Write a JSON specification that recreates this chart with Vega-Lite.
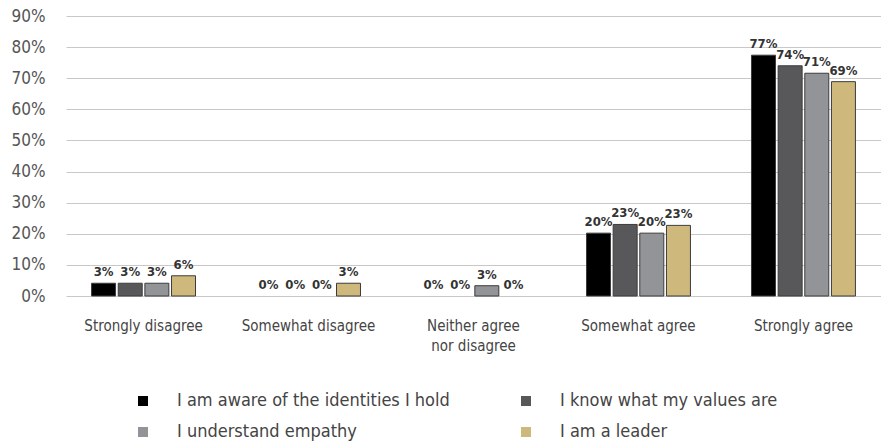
{
  "$schema": "https://vega.github.io/schema/vega-lite/v6.json",
  "width": 815,
  "height": 280,
  "autosize": "none",
  "padding": {"left": 66, "top": 16, "right": 0, "bottom": 146},
  "background": "white",
  "config": {
    "font": "DejaVu Sans Condensed, Roboto, sans-serif",
    "view": {"stroke": null}
  },
  "data": {
    "values": [
      {"response": "Strongly disagree", "item": "I am aware of the identities I hold", "value": 4.1, "label": "3%"},
      {"response": "Strongly disagree", "item": "I know what my values are", "value": 4.1, "label": "3%"},
      {"response": "Strongly disagree", "item": "I understand empathy", "value": 4.1, "label": "3%"},
      {"response": "Strongly disagree", "item": "I am a leader", "value": 6.5, "label": "6%"},
      {"response": "Somewhat disagree", "item": "I am aware of the identities I hold", "value": 0, "label": "0%"},
      {"response": "Somewhat disagree", "item": "I know what my values are", "value": 0, "label": "0%"},
      {"response": "Somewhat disagree", "item": "I understand empathy", "value": 0, "label": "0%"},
      {"response": "Somewhat disagree", "item": "I am a leader", "value": 4.1, "label": "3%"},
      {"response": "Neither agree nor disagree", "item": "I am aware of the identities I hold", "value": 0, "label": "0%"},
      {"response": "Neither agree nor disagree", "item": "I know what my values are", "value": 0, "label": "0%"},
      {"response": "Neither agree nor disagree", "item": "I understand empathy", "value": 3.3, "label": "3%"},
      {"response": "Neither agree nor disagree", "item": "I am a leader", "value": 0, "label": "0%"},
      {"response": "Somewhat agree", "item": "I am aware of the identities I hold", "value": 20.2, "label": "20%"},
      {"response": "Somewhat agree", "item": "I know what my values are", "value": 23, "label": "23%"},
      {"response": "Somewhat agree", "item": "I understand empathy", "value": 20.2, "label": "20%"},
      {"response": "Somewhat agree", "item": "I am a leader", "value": 22.7, "label": "23%"},
      {"response": "Strongly agree", "item": "I am aware of the identities I hold", "value": 77.4, "label": "77%"},
      {"response": "Strongly agree", "item": "I know what my values are", "value": 74, "label": "74%"},
      {"response": "Strongly agree", "item": "I understand empathy", "value": 71.6, "label": "71%"},
      {"response": "Strongly agree", "item": "I am a leader", "value": 68.9, "label": "69%"}
    ]
  },
  "encoding": {
    "x": {
      "field": "response",
      "type": "nominal",
      "sort": ["Strongly disagree", "Somewhat disagree", "Neither agree nor disagree", "Somewhat agree", "Strongly agree"],
      "scale": {"paddingInner": 0.37, "paddingOuter": 0.155},
      "axis": {
        "title": null,
        "labelAngle": 0,
        "domain": false,
        "ticks": false,
        "labelPadding": 22,
        "labelFontSize": 15,
        "labelColor": "#444444",
        "labelLineHeight": 20,
        "labelExpr": "datum.value == 'Neither agree nor disagree' ? ['Neither agree', 'nor disagree'] : datum.value"
      }
    },
    "xOffset": {
      "field": "item",
      "type": "nominal",
      "sort": ["I am aware of the identities I hold", "I know what my values are", "I understand empathy", "I am a leader"],
      "scale": {"paddingInner": 0.1}
    },
    "y": {
      "field": "value",
      "type": "quantitative",
      "scale": {"domain": [0, 90], "nice": false},
      "axis": {
        "title": null,
        "values": [0, 10, 20, 30, 40, 50, 60, 70, 80, 90],
        "labelExpr": "datum.value + '%'",
        "domain": false,
        "ticks": false,
        "labelPadding": 21,
        "labelFontSize": 17,
        "labelColor": "#555555",
        "gridColor": "#c8c8c8",
        "gridWidth": 1
      }
    }
  },
  "layer": [
    {
      "transform": [{"filter": "datum.value > 0"}],
      "mark": {"type": "bar", "stroke": "#3c3c3c", "strokeWidth": 1},
      "encoding": {
        "color": {
          "field": "item",
          "type": "nominal",
          "sort": ["I am aware of the identities I hold", "I know what my values are", "I understand empathy", "I am a leader"],
          "scale": {
            "domain": ["I am aware of the identities I hold", "I know what my values are", "I understand empathy", "I am a leader"],
            "range": ["#000000", "#58585a", "#939497", "#cfb87c"]
          },
          "legend": {
            "title": null,
            "orient": "none",
            "legendX": 68,
            "legendY": 376,
            "columns": 2,
            "direction": "horizontal",
            "symbolType": "square",
            "symbolSize": 100,
            "symbolStrokeWidth": 0,
            "labelFontSize": 18,
            "labelColor": "#444444",
            "labelOffset": 25,
            "rowPadding": 13,
            "columnPadding": 67,
            "labelLimit": 400
          }
        }
      }
    },
    {
      "mark": {"type": "text", "baseline": "bottom", "dy": -4, "fontWeight": "bold", "fontSize": 13, "color": "#333333"},
      "encoding": {
        "text": {"field": "label"}
      }
    }
  ]
}
